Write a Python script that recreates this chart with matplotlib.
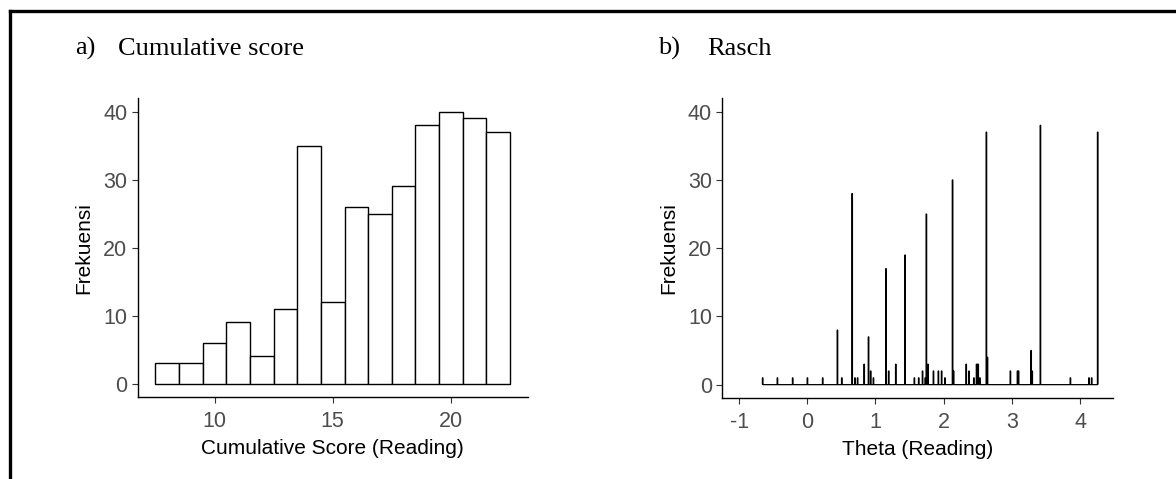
import numpy as np
import matplotlib.pyplot as plt
from matplotlib.lines import Line2D

# a) cumulative score histogram (bins of width 1)
skor = [8, 9, 10, 11, 12, 13, 14, 15, 16, 17, 18, 19, 20, 21, 22]
frek_skor = [3, 3, 6, 9, 4, 11, 35, 12, 26, 25, 29, 38, 40, 39, 37]

# b) Rasch theta estimates and their counts
theta = [-0.654, -0.434, -0.214, 0.006, 0.226, 0.44, 0.504, 0.66, 0.695, 0.739,
         0.836, 0.90, 0.934, 0.973, 1.154, 1.193, 1.296, 1.433, 1.569, 1.638,
         1.692, 1.73, 1.745, 1.77, 1.848, 1.92, 1.97, 2.015, 2.13, 2.147,
         2.327, 2.37, 2.444, 2.48, 2.50, 2.51, 2.53, 2.625, 2.645, 2.98,
         3.08, 3.10, 3.28, 3.30, 3.42, 3.856, 4.13, 4.17, 4.262]
frek_theta = [1, 1, 1, 1, 1, 8, 1, 28, 1, 1,
              3, 7, 2, 1, 17, 2, 3, 19, 1, 1,
              2, 1, 25, 3, 2, 2, 2, 1, 30, 2,
              3, 2, 1, 3, 3, 3, 1, 37, 4, 2,
              2, 2, 5, 2, 38, 1, 1, 1, 37]

plt.rcParams['font.family'] = ['Liberation Sans', 'DejaVu Sans']

fig = plt.figure(figsize=(11.76, 4.79), dpi=100)

W, H = 1176, 479
def kotak(x0, y0, x1, y1):
    return [x0 / W, 1 - y1 / H, (x1 - x0) / W, (y1 - y0) / H]

ax1 = fig.add_axes(kotak(137.7, 98, 527.7, 397.3))
ax2 = fig.add_axes(kotak(722.3, 98, 1112.7, 398.3))

ax1.bar(skor, frek_skor, width=1.0, facecolor='white', edgecolor='black',
        linewidth=1.0)
ax1.set_xlim(6.75, 23.25)
ax1.set_xticks([10, 15, 20])
ax1.set_xlabel("Cumulative Score (Reading)")

lebar = 0.008
tepi = np.arange(min(theta) - lebar / 2, max(theta) + lebar, lebar)
ax2.hist(theta, bins=tepi, weights=frek_theta, histtype='step',
         color='black', linewidth=0.9)
ax2.set_xlim(-1.246, 4.478)
ax2.set_xticks([-1, 0, 1, 2, 3, 4])
ax2.set_xticklabels(['-1', '0', '1', '2', '3', '4'])
ax2.set_xlabel("Theta (Reading)")

for ax in (ax1, ax2):
    ax.set_ylim(-2, 42)
    ax.set_yticks([0, 10, 20, 30, 40])
    ax.set_ylabel("Frekuensi", fontsize=15, labelpad=7)
    ax.xaxis.label.set_size(15)
    ax.xaxis.labelpad = 5
    ax.spines['top'].set_visible(False)
    ax.spines['right'].set_visible(False)
    ax.spines['left'].set_linewidth(1.0)
    ax.spines['bottom'].set_linewidth(1.0)
    ax.tick_params(labelsize=15.5, labelcolor='#4d4d4d', color='#333333',
                   length=4, width=0.8)
    ax.tick_params(axis='x', pad=6)
    ax.tick_params(axis='y', pad=3.5)

# panel titles
judul = dict(fontsize=19, family='Liberation Serif', va='baseline')
fig.text(75 / W, 1 - 55 / H, "a)", **judul)
fig.text(118 / W, 1 - 55 / H, "Cumulative score", **judul)
fig.text(658 / W, 1 - 55 / H, "b)", **judul)
fig.text(707 / W, 1 - 55 / H, "Rasch", **judul)

# frame around the figure (top and left)
fig.add_artist(Line2D([9.5 / W, 1], [1 - 10.5 / H, 1 - 10.5 / H],
                      transform=fig.transFigure, color='black', linewidth=2.4,
                      solid_capstyle='projecting'))
fig.add_artist(Line2D([9.5 / W, 9.5 / W], [0, 1 - 10.5 / H],
                      transform=fig.transFigure, color='black', linewidth=2.4,
                      solid_capstyle='projecting'))

fig.savefig("out.png", dpi=100)
